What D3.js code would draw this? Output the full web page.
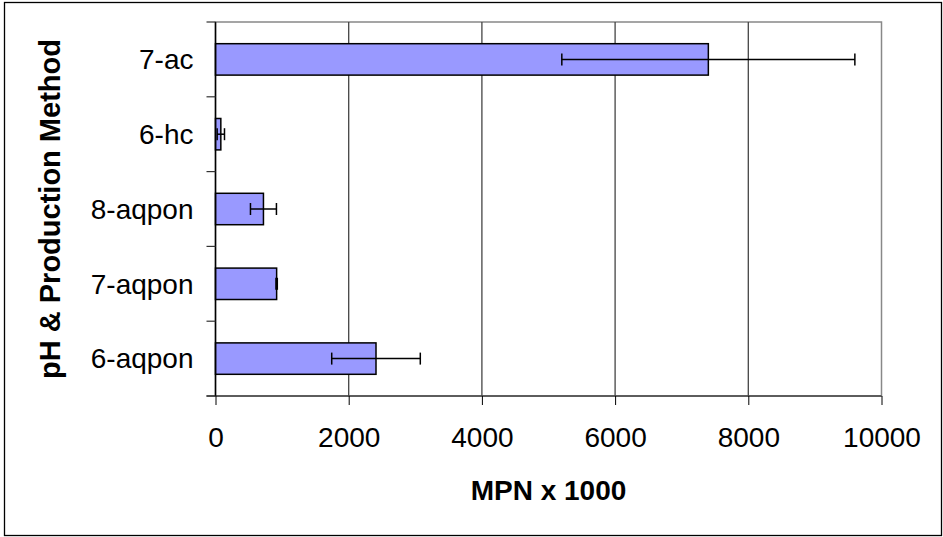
<!DOCTYPE html>
<html>
<head>
<meta charset="utf-8">
<script src="https://cdn.jsdelivr.net/npm/d3@7"></script>
<style>
  body { margin: 0; background: #fff; }
  text { font-family: "Liberation Sans", Arial, sans-serif; fill: #000; }
</style>
</head>
<body>
<div id="chart"></div>
<script>
// data, top to bottom
const categories = ["7-ac", "6-hc", "8-aqpon", "7-aqpon", "6-aqpon"];
const means = [7400, 80, 720, 918, 2410];
const errors = [2200, 55, 195, 10, 665];
const xTicks = [0, 2000, 4000, 6000, 8000, 10000];

const W = 943, H = 537;
let margin = { top: 22, left: 215.5, right: 61.5, bottom: 141 },
  width = W - margin.left - margin.right,
  height = H - margin.top - margin.bottom;

let svg = d3.select("#chart")
  .append("svg")
  .attr("width", W)
  .attr("height", H);

// outer chart border
svg.append("rect")
  .attr("x", 4.5).attr("y", 2.5)
  .attr("width", 937).attr("height", 533)
  .attr("fill", "none")
  .attr("stroke", "#000")
  .attr("stroke-width", 1.3);

let g = svg.append("g")
  .attr("transform", "translate(" + margin.left + "," + margin.top + ")");

let xScale = d3.scaleLinear().domain([0, 10000]).range([0, width]);
let yScale = d3.scaleBand().domain(categories).range([0, height]).paddingInner(0.58).paddingOuter(0.29);

// plot border (top/right grey)
g.append("rect")
  .attr("width", width).attr("height", height)
  .attr("fill", "none")
  .attr("stroke", "#888")
  .attr("stroke-width", 1.5);

// gridlines
g.selectAll(".grid")
  .data(xTicks.slice(1, -1))
  .enter().append("line")
  .attr("class", "grid")
  .attr("x1", d => xScale(d)).attr("x2", d => xScale(d))
  .attr("y1", 0).attr("y2", height)
  .attr("stroke", "#444")
  .attr("stroke-width", 1.3);

// bars
g.selectAll(".bar")
  .data(categories)
  .enter().append("rect")
  .attr("class", "bar")
  .attr("x", xScale(0))
  .attr("y", d => yScale(d))
  .attr("width", (d, i) => xScale(means[i]) - xScale(0))
  .attr("height", yScale.bandwidth())
  .attr("fill", "#9999ff")
  .attr("stroke", "#000")
  .attr("stroke-width", 1.5);

// error bars
let eb = g.selectAll(".err")
  .data(categories)
  .enter().append("g")
  .attr("class", "err")
  .attr("transform", d => "translate(0," + (yScale(d) + yScale.bandwidth() / 2) + ")");

eb.append("line")
  .attr("x1", (d, i) => xScale(means[i] - errors[i]))
  .attr("x2", (d, i) => xScale(means[i] + errors[i]))
  .attr("stroke", "#000").attr("stroke-width", 1.5);
eb.append("line")
  .attr("x1", (d, i) => xScale(means[i] - errors[i]))
  .attr("x2", (d, i) => xScale(means[i] - errors[i]))
  .attr("y1", -6).attr("y2", 6)
  .attr("stroke", "#000").attr("stroke-width", 1.5);
eb.append("line")
  .attr("x1", (d, i) => xScale(means[i] + errors[i]))
  .attr("x2", (d, i) => xScale(means[i] + errors[i]))
  .attr("y1", -6).attr("y2", 6)
  .attr("stroke", "#000").attr("stroke-width", 1.5);

// x axis
let xAxis = g.append("g")
  .attr("transform", "translate(0," + height + ")")
  .call(d3.axisBottom(xScale).tickValues(xTicks).tickFormat(d3.format("d")).tickSize(9).tickPadding(22));
xAxis.select(".domain").attr("stroke", "#444").attr("stroke-width", 1.5).attr("d", "M-9,0H" + width);
xAxis.selectAll(".tick line").attr("stroke", "#000");
xAxis.selectAll(".tick text").style("font-size", "28px").attr("font-family", null);

// y axis: ticks at category boundaries
let bounds = d3.range(categories.length + 1).map(i => i * height / categories.length);
let yAxis = g.append("g");
yAxis.append("line")
  .attr("x1", 0).attr("x2", 0).attr("y1", 0).attr("y2", height)
  .attr("stroke", "#000").attr("stroke-width", 1.5);
yAxis.selectAll(".ytick")
  .data(bounds)
  .enter().append("line")
  .attr("x1", -9).attr("x2", 0)
  .attr("y1", d => d).attr("y2", d => d)
  .attr("stroke", "#333").attr("stroke-width", 1.2);
yAxis.selectAll(".ylab")
  .data(categories)
  .enter().append("text")
  .attr("x", -22)
  .attr("y", d => yScale(d) + yScale.bandwidth() / 2)
  .attr("dy", "0.35em")
  .attr("text-anchor", "end")
  .style("font-size", "28px")
  .text(d => d);

// axis titles
svg.append("text")
  .attr("x", margin.left + width / 2)
  .attr("y", 500)
  .attr("text-anchor", "middle")
  .style("font-size", "28px")
  .style("font-weight", "bold")
  .text("MPN x 1000");

svg.append("text")
  .attr("transform", "translate(60," + (margin.top + height / 2) + ") rotate(-90)")
  .attr("text-anchor", "middle")
  .style("font-size", "29px")
  .style("font-weight", "bold")
  .text("pH & Production Method");
</script>
</body>
</html>
